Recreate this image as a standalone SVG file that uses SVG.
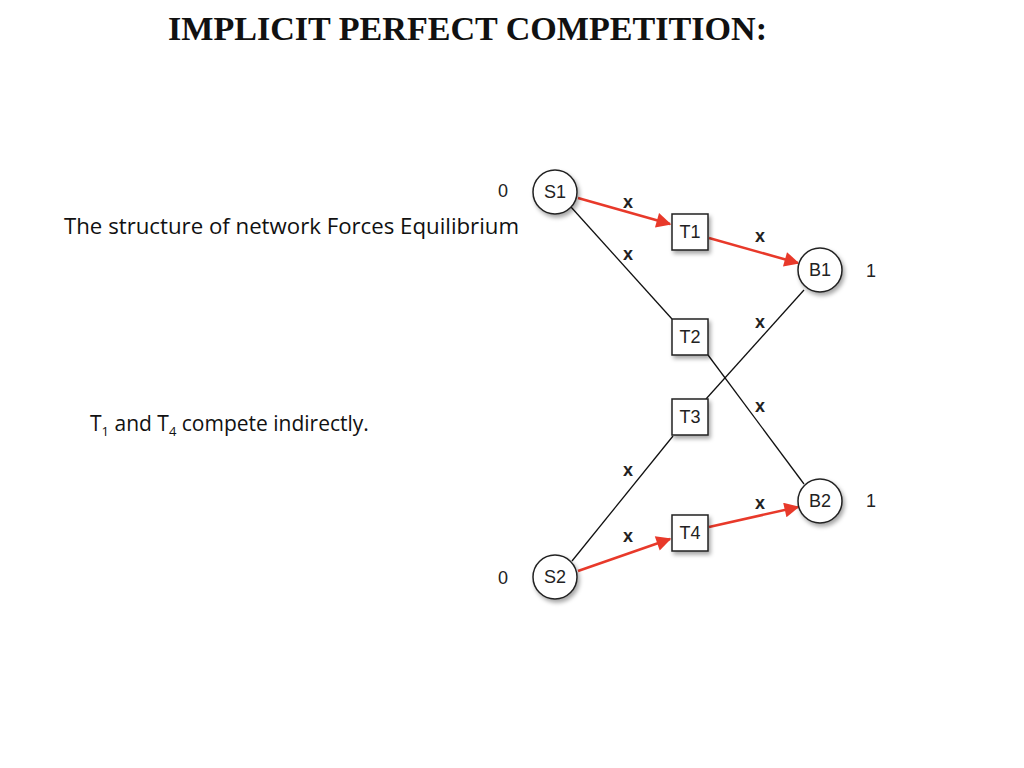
<svg xmlns="http://www.w3.org/2000/svg" width="1024" height="768" viewBox="0 0 1024 768">
<style>
.n{fill:#fff;stroke:#222;stroke-width:1.5}
.t{font-family:"Liberation Sans",Arial,sans-serif;font-size:18px;fill:#222;text-anchor:middle;dominant-baseline:central}
.e{stroke:#111;stroke-width:1.3;fill:none}
.r{stroke:#e8392a;stroke-width:2.5;fill:none;marker-end:url(#ah)}
.lab{font-family:"Open Sans","Noto Sans",sans-serif;font-size:21px;fill:#111}
</style>
<defs>
<marker id="ah" viewBox="0 0 10 10" refX="9" refY="5" markerWidth="7" markerHeight="6" orient="auto" markerUnits="strokeWidth"><path d="M0,0L10,5L0,10z" fill="#e8392a"/></marker>
<filter id="sh" x="-30%" y="-30%" width="170%" height="170%"><feDropShadow dx="2" dy="3" stdDeviation="2" flood-color="#000" flood-opacity="0.35"/></filter>
</defs>
<rect width="1024" height="768" fill="#fff"/>
<text x="168" y="40" textLength="599" lengthAdjust="spacingAndGlyphs" font-family="Liberation Serif,'Times New Roman',serif" font-weight="bold" font-size="33" fill="#111">IMPLICIT PERFECT COMPETITION:</text>
<text class="lab" x="64" y="234" textLength="455" lengthAdjust="spacingAndGlyphs">The structure of network Forces Equilibrium</text>
<text class="lab" x="90" y="431">T<tspan font-size="13" dy="5">1</tspan><tspan dy="-5"> and T</tspan><tspan font-size="13" dy="5">4</tspan><tspan dy="-5">  compete indirectly.</tspan></text>
<g id="connectors">
<line class="e" x1="571" y1="207" x2="672" y2="319"/>
<line class="e" x1="708" y1="355" x2="804" y2="484"/>
<line class="e" x1="804" y1="290" x2="706" y2="399"/>
<line class="e" x1="673" y1="436" x2="572" y2="561"/>
<line class="r" x1="578" y1="198" x2="670" y2="224"/>
<line class="r" x1="709" y1="238" x2="798" y2="263"/>
<line class="r" x1="578" y1="571" x2="670" y2="539"/>
<line class="r" x1="709" y1="527" x2="798" y2="507"/>
<g class="t" font-weight="bold">
<text x="628" y="202">x</text><text x="760" y="236">x</text><text x="628" y="254">x</text><text x="760" y="322">x</text><text x="760" y="406">x</text><text x="628" y="470">x</text><text x="760" y="503">x</text><text x="628" y="536">x</text>
</g>
</g>
<g id="S1"><circle class="n" filter="url(#sh)" cx="555" cy="192" r="22"/><text class="t" x="555" y="192">S1</text><text class="t" x="503" y="191">0</text></g>
<g id="S2"><circle class="n" filter="url(#sh)" cx="555" cy="577" r="22"/><text class="t" x="555" y="577">S2</text><text class="t" x="503" y="578">0</text></g>
<g id="B1"><circle class="n" filter="url(#sh)" cx="820" cy="270" r="22"/><text class="t" x="820" y="270">B1</text><text class="t" x="871" y="271">1</text></g>
<g id="B2"><circle class="n" filter="url(#sh)" cx="820" cy="501" r="22"/><text class="t" x="820" y="501">B2</text><text class="t" x="871" y="501">1</text></g>
<g id="T1"><rect class="n" filter="url(#sh)" x="672" y="214" width="36" height="36"/><text class="t" x="690" y="232">T1</text></g>
<g id="T2"><rect class="n" filter="url(#sh)" x="672" y="319" width="36" height="36"/><text class="t" x="690" y="337">T2</text></g>
<g id="T3"><rect class="n" filter="url(#sh)" x="672" y="399" width="36" height="36"/><text class="t" x="690" y="417">T3</text></g>
<g id="T4"><rect class="n" filter="url(#sh)" x="672" y="515" width="36" height="36"/><text class="t" x="690" y="533">T4</text></g>
</svg>
